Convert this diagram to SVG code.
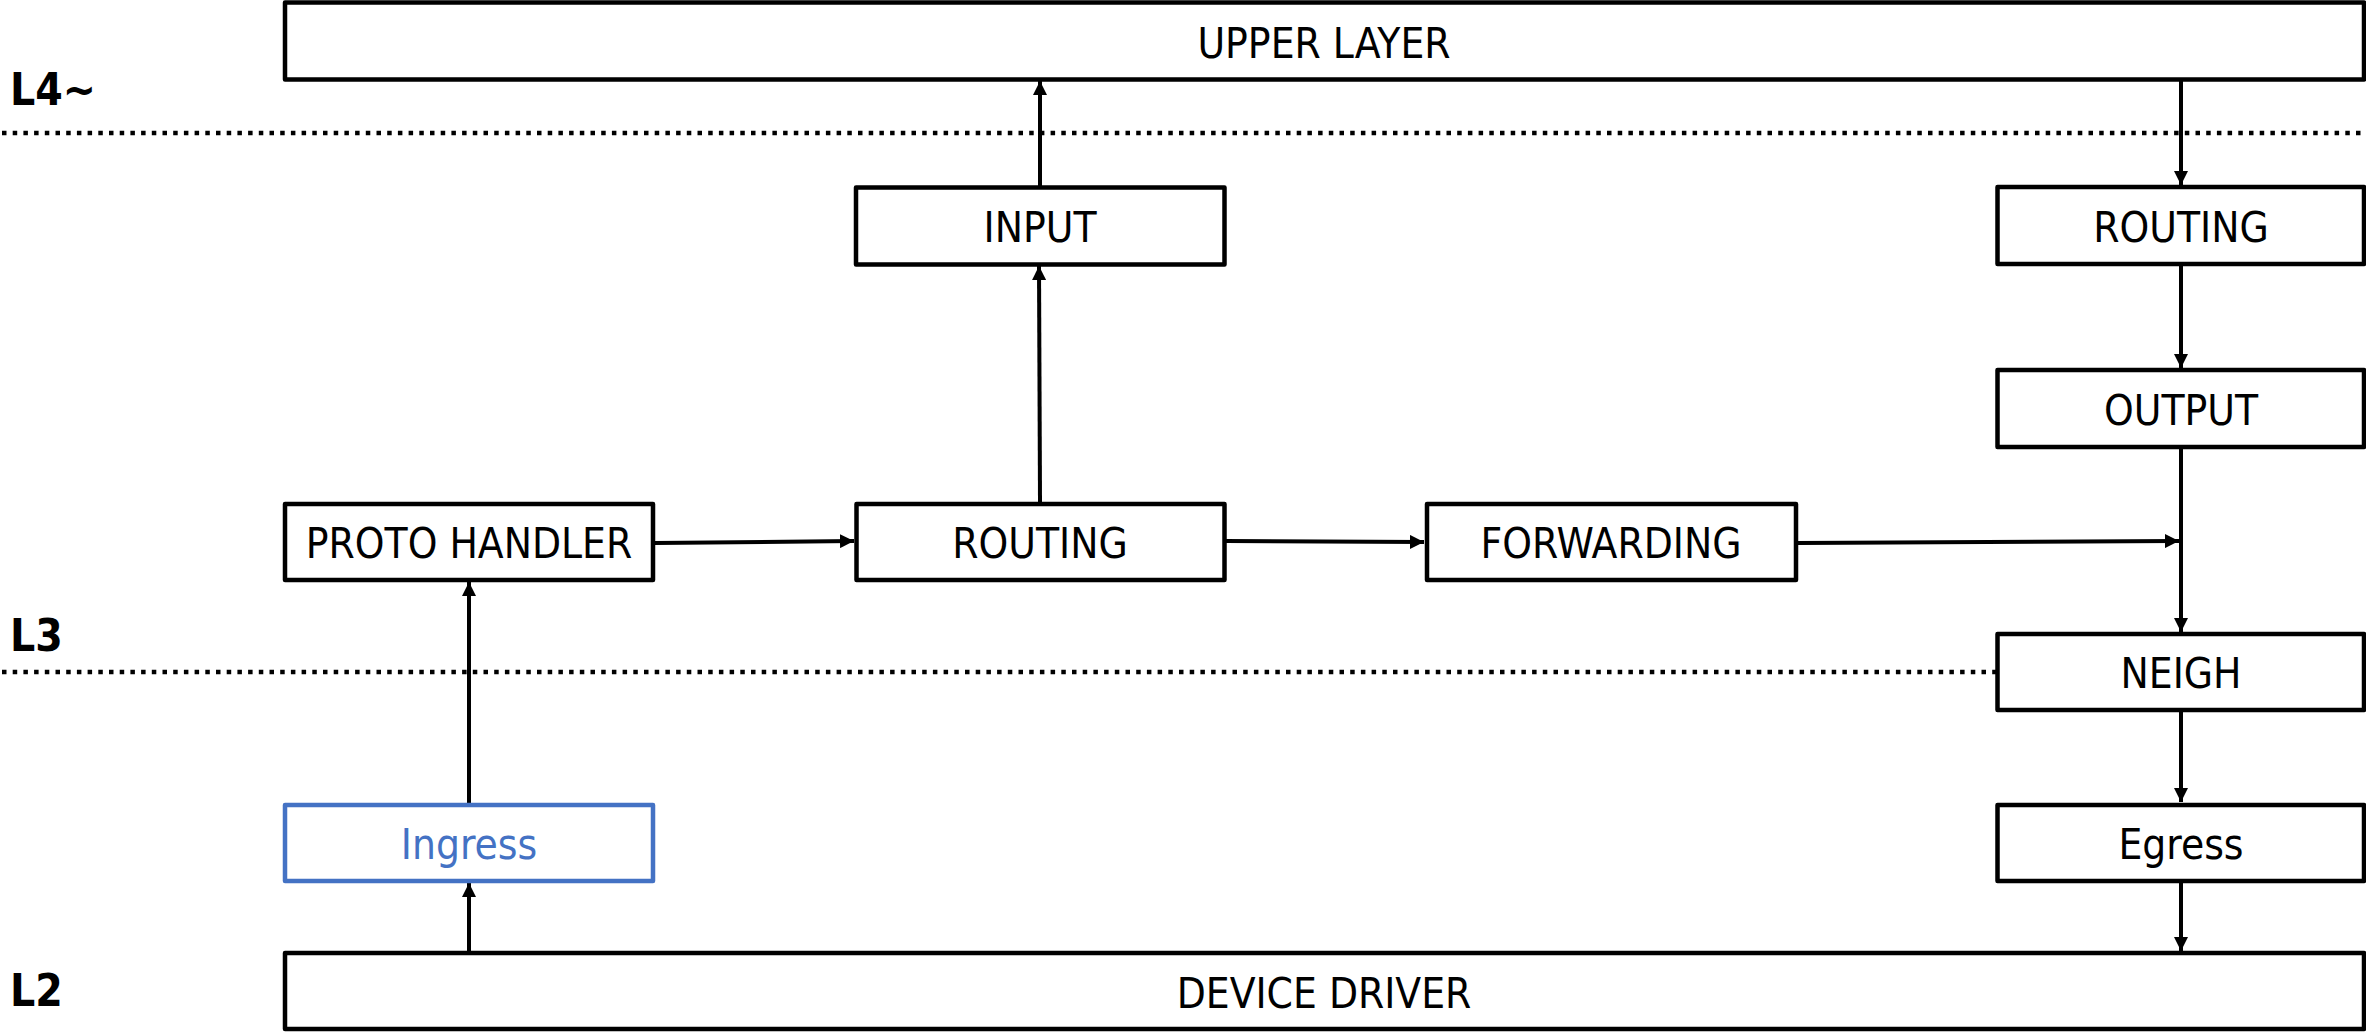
<svg xmlns="http://www.w3.org/2000/svg" width="2366" height="1032" viewBox="0 0 2366 1032">
<defs>
<style>
.box{fill:#fff;stroke:#000;stroke-width:4.5;stroke-linejoin:round}
.blue{stroke:#4472C4}
.lbl{font-family:"DejaVu Sans Condensed","DejaVu Sans",sans-serif;font-stretch:condensed;font-size:42px;fill:#000;text-anchor:middle}
.lay{font-family:"DejaVu Sans Condensed","DejaVu Sans",sans-serif;font-stretch:condensed;font-weight:bold;font-size:44px;fill:#000}
.dot{stroke:#000;stroke-width:4.5;stroke-dasharray:4.5 6.2;fill:none}
.con{stroke:#000;stroke-width:4;fill:none;marker-end:url(#ah)}
</style>
<marker id="ah" viewBox="0 0 10 10" refX="10" refY="5" markerWidth="3.5" markerHeight="3.6" orient="auto" markerUnits="strokeWidth">
<path d="M0,0 L10,5 L0,10 z" fill="#000"/>
</marker>
</defs>
<g id="layers">
<line class="dot" x1="2" y1="133" x2="2366" y2="133"/>
<line class="dot" x1="2" y1="672" x2="1996" y2="672"/>
<text class="lay" x="10" y="105">L4~</text>
<text class="lay" x="10" y="651">L3</text>
<text class="lay" x="10" y="1006">L2</text>
</g>
<g id="connectors">
<line class="con" x1="1040" y1="187" x2="1040" y2="81"/>
<line class="con" x1="2181" y1="80" x2="2181" y2="185"/>
<line class="con" x1="2181" y1="265" x2="2181" y2="368"/>
<line class="con" x1="2181" y1="448" x2="2181" y2="632"/>
<line class="con" x1="1040" y1="502" x2="1039" y2="266"/>
<line class="con" x1="655" y1="543" x2="854" y2="541"/>
<line class="con" x1="1226" y1="541" x2="1424" y2="542"/>
<line class="con" x1="1798" y1="543" x2="2179" y2="541"/>
<line class="con" x1="2181" y1="710" x2="2181" y2="802"/>
<line class="con" x1="2181" y1="882" x2="2181" y2="951"/>
<line class="con" x1="469" y1="804" x2="469" y2="582"/>
<line class="con" x1="469" y1="952" x2="469" y2="883"/>
</g>
<g id="upper-layer"><rect class="box" x="285" y="2.5" width="2079" height="77"/><text class="lbl" x="1324" y="58">UPPER LAYER</text></g>
<g id="input"><rect class="box" x="856" y="187.5" width="368.5" height="77"/><text class="lbl" x="1040" y="242">INPUT</text></g>
<g id="routing-out"><rect class="box" x="1997.5" y="187" width="366.5" height="77"/><text class="lbl" x="2181" y="242">ROUTING</text></g>
<g id="output"><rect class="box" x="1997.5" y="370" width="366.5" height="77"/><text class="lbl" x="2181" y="425">OUTPUT</text></g>
<g id="proto-handler"><rect class="box" x="285" y="504" width="368" height="76"/><text class="lbl" x="469" y="558">PROTO HANDLER</text></g>
<g id="routing-in"><rect class="box" x="856.5" y="504" width="368" height="76"/><text class="lbl" x="1040" y="558">ROUTING</text></g>
<g id="forwarding"><rect class="box" x="1427" y="504" width="369" height="76"/><text class="lbl" x="1611" y="558">FORWARDING</text></g>
<g id="neigh"><rect class="box" x="1997.5" y="634" width="366.5" height="76"/><text class="lbl" x="2181" y="688">NEIGH</text></g>
<g id="ingress"><rect class="box blue" x="285" y="805" width="368" height="76"/><text class="lbl" x="469" y="859" style="fill:#4472C4">Ingress</text></g>
<g id="egress"><rect class="box" x="1997.5" y="805" width="366.5" height="76"/><text class="lbl" x="2181" y="859">Egress</text></g>
<g id="device-driver"><rect class="box" x="285" y="953" width="2079" height="76"/><text class="lbl" x="1324" y="1008">DEVICE DRIVER</text></g>
</svg>
